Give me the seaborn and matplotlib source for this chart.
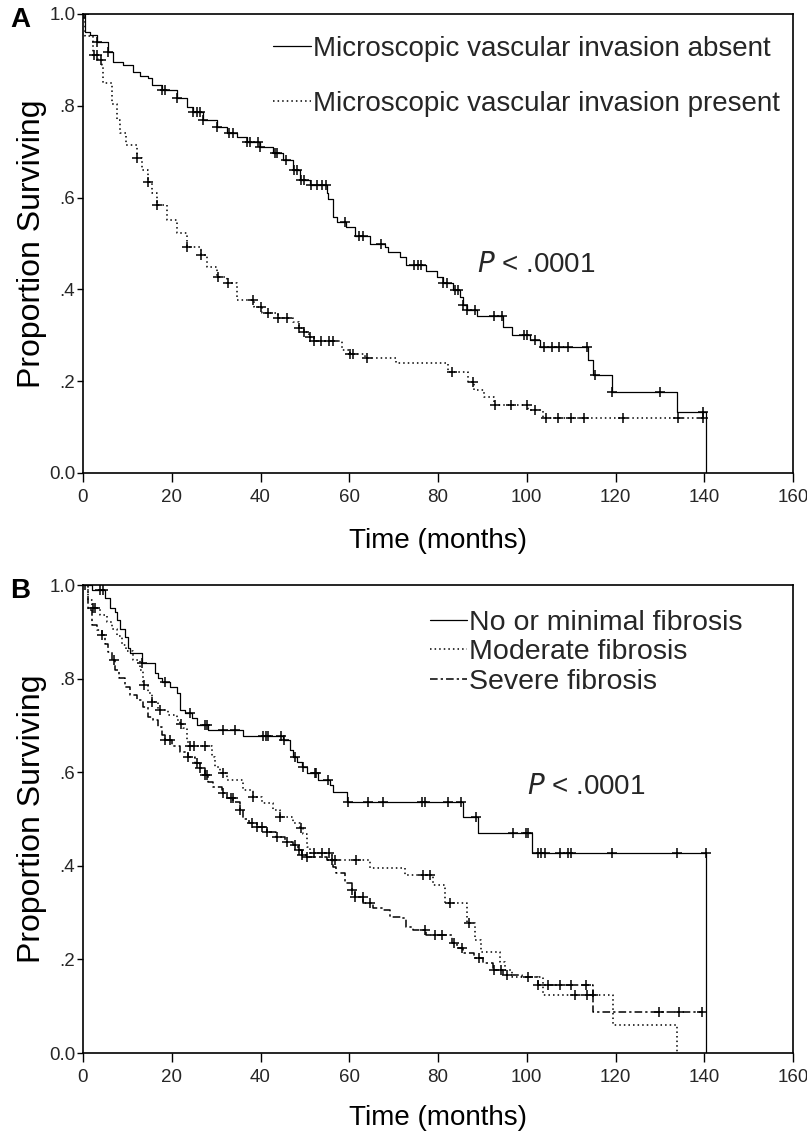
import numpy as np
import pandas as pd
import seaborn as sns
import matplotlib.pyplot as plt

# Panel A - microscopic vascular invasion (Kaplan-Meier knots)
a_absent_t = [0, 0.5, 1.6, 3.1, 5.7, 6.8, 9.1, 11.3, 12.8, 14.7, 15.5, 17.7, 21.1, 23.4, 24.9,
              27.1, 30.1, 32.4, 34.6, 36.9, 39.9, 42.9, 45.1, 47.4, 48.9, 51.2, 54.9, 55.3, 56.4,
              57.2, 59.2, 61.3, 64.7, 68.1, 68.8, 71.4, 72.9, 77.4, 79.7, 81.2, 83.4, 85.0, 85.7,
              86.5, 88.7, 94.7, 96.6, 100.7, 103.0, 113.9, 115.0, 119.1, 133.8, 140.4]
a_absent_s = [1.0, .961, .954, .940, .918, .896, .889, .874, .865, .860, .845, .834, .816, .798, .787,
              .769, .754, .740, .733, .722, .711, .697, .682, .660, .638, .627, .609, .598, .558,
              .547, .535, .517, .499, .493, .482, .471, .453, .439, .428, .413, .399, .384, .366,
              .355, .341, .319, .301, .290, .275, .246, .214, .177, .132, 0.0]
a_absent_cens = [0.3, 3.1, 5.7, 17.7, 18.5, 21.1, 24.9, 25.6, 26.4, 27.1, 30.1, 32.8, 33.9, 36.9,
                 37.6, 39.5, 39.9, 43.3, 43.7, 45.8, 47.6, 48.3, 49.1, 49.8, 51.3, 52.8, 53.9, 54.7,
                 59.0, 62.2, 63.0, 67.1, 74.6, 75.4, 76.1, 81.2, 82.0, 83.8, 84.5, 85.7, 86.5, 88.4,
                 92.6, 94.4, 99.3, 100.0, 101.9, 103.8, 105.7, 107.2, 109.4, 113.5, 115.3, 119.3,
                 130.0, 139.7]

a_present_t = [0, 0.5, 2.3, 3.4, 4.2, 4.6, 6.5, 7.6, 8.3, 9.8, 12.1, 13.2, 14.7, 15.5, 16.6, 18.9,
               21.1, 23.4, 26.7, 27.9, 30.1, 32.4, 34.6, 38.5, 40.4, 43.9, 47.4, 48.6, 49.7, 50.9,
               52.0, 58.4, 60.2, 63.6, 70.6, 82.2, 86.8, 88.0, 90.3, 92.6, 100.2, 103.7, 140.2]
a_present_s = [1.0, .951, .911, .900, .889, .849, .805, .769, .740, .715, .686, .660, .635, .609, .584,
               .551, .522, .493, .475, .449, .428, .413, .377, .362, .349, .338, .330, .316, .308,
               .297, .288, .268, .259, .250, .240, .221, .199, .181, .166, .148, .137, .119, .119]
a_present_cens = [2.5, 3.2, 4.0, 12.1, 14.7, 16.6, 23.4, 26.7, 30.5, 32.7, 38.4, 40.0, 41.6, 43.9,
                  46.0, 48.6, 49.9, 51.1, 52.0, 53.7, 55.4, 56.4, 60.2, 60.8, 63.9, 83.2, 87.8, 92.9,
                  96.4, 100.0, 101.9, 104.4, 107.0, 109.9, 112.8, 121.6, 134.1, 139.8]

# Panel B - fibrosis
b_none_t = [0, 2.0, 5.0, 6.1, 7.2, 7.6, 8.3, 9.5, 10.2, 10.6, 13.2, 16.2, 17.0, 17.7, 19.6, 21.1,
            21.9, 23.0, 24.5, 25.6, 28.2, 36.1, 45.1, 46.6, 47.4, 48.2, 49.3, 50.4, 53.0, 55.7,
            56.4, 59.4, 85.7, 89.1, 101.1, 140.5]
b_none_s = [1.0, .989, .972, .950, .943, .925, .907, .889, .865, .854, .833, .811, .801, .793, .783,
            .769, .733, .726, .715, .701, .690, .677, .669, .647, .633, .622, .612, .598, .583,
            .573, .558, .537, .505, .471, .427, 0.0]
b_none_cens = [0.5, 3.9, 4.6, 13.2, 18.5, 24.2, 27.5, 27.9, 31.6, 34.2, 40.6, 41.3, 41.7, 44.6,
               45.3, 47.8, 49.6, 52.3, 52.6, 55.3, 59.7, 64.2, 67.6, 76.3, 77.0, 82.2, 85.2, 88.5,
               96.8, 99.8, 100.2, 102.5, 103.3, 104.0, 107.4, 109.2, 110.0, 119.1, 133.8, 140.3]

b_mod_t = [0, 1.2, 2.0, 3.8, 5.3, 6.5, 7.6, 8.7, 9.8, 11.3, 12.8, 13.6, 14.7, 15.5, 17.0, 19.2,
           21.1, 21.9, 22.6, 23.4, 23.7, 29.0, 29.7, 30.9, 32.4, 36.1, 38.4, 40.3, 42.9, 44.4,
           47.4, 48.9, 49.6, 50.4, 51.2, 56.0, 64.7, 72.6, 78.9, 81.6, 86.5, 88.3, 89.8, 94.0,
           95.1, 96.6, 103.7, 119.5, 133.8]
b_mod_s = [1.0, .968, .950, .936, .922, .907, .890, .872, .858, .840, .818, .786, .769, .751, .733,
           .722, .712, .704, .694, .669, .655, .633, .612, .598, .583, .562, .548, .534, .519,
           .505, .491, .480, .469, .441, .427, .412, .395, .380, .359, .320, .277, .241, .216,
           .195, .177, .163, .124, .060, 0.0]
b_mod_cens = [2.3, 2.6, 13.8, 15.5, 17.4, 22.1, 24.0, 25.1, 27.4, 31.6, 38.4, 44.4, 49.2, 52.0,
              53.8, 55.5, 56.7, 61.5, 76.6, 78.1, 82.7, 87.0, 110.9, 113.5, 115.0]

b_sev_t = [0, 1.2, 2.0, 3.1, 4.2, 5.0, 5.7, 6.5, 7.2, 8.0, 9.5, 10.6, 12.1, 13.6, 14.7, 15.8, 17.0,
           17.7, 18.5, 20.0, 21.9, 23.7, 25.2, 26.4, 27.5, 28.2, 29.4, 31.3, 32.4, 33.9, 35.4,
           36.1, 37.3, 39.1, 41.4, 43.6, 45.5, 47.4, 48.5, 49.3, 50.4, 54.9, 56.4, 57.0, 59.0,
           60.6, 61.3, 63.2, 65.4, 67.7, 69.2, 71.8, 72.9, 74.4, 77.4, 83.1, 84.2, 85.7, 88.0,
           90.2, 92.5, 94.7, 98.9, 102.6, 115.0, 139.6]
b_sev_s = [1.0, .947, .915, .904, .893, .875, .857, .840, .818, .801, .783, .765, .754, .740, .719,
           .712, .697, .679, .669, .655, .644, .633, .619, .608, .594, .580, .569, .555, .544,
           .537, .519, .501, .491, .483, .473, .462, .451, .444, .434, .423, .419, .412, .398,
           .384, .363, .348, .334, .320, .309, .306, .291, .288, .270, .263, .252, .234, .224,
           .213, .202, .192, .177, .167, .163, .145, .088, .088]
b_sev_cens = [4.2, 7.0, 18.5, 19.6, 23.7, 25.6, 26.4, 27.5, 27.9, 31.6, 33.4, 33.8, 35.4, 38.0,
              39.3, 40.4, 41.4, 43.7, 46.0, 47.7, 48.7, 49.3, 50.4, 56.0, 60.7, 61.3, 63.0, 64.7,
              77.0, 79.3, 81.0, 83.6, 85.5, 89.2, 92.6, 94.3, 95.5, 100.2, 102.6, 104.8, 107.6,
              109.9, 113.4, 129.8, 134.4, 139.6]

x_ticks = [0, 20, 40, 60, 80, 100, 120, 140, 160]
y_ticks = [0.0, 0.2, 0.4, 0.6, 0.8, 1.0]
y_ticklabels = ['0.0', '.2', '.4', '.6', '.8', '1.0']

sns.set_theme(style="white")
plt.rcParams['font.family'] = ['Liberation Sans', 'DejaVu Sans']
tick_font = ['Liberation Sans Narrow', 'Liberation Sans', 'DejaVu Sans']


def km_curve(ax, t, s, cens, label, ls, lw):
    df = pd.DataFrame({'Time': t, 'Surv': s})
    sns.lineplot(data=df, x='Time', y='Surv', ax=ax, color='black', linewidth=lw,
                 linestyle=ls, drawstyle='steps-post', estimator=None, sort=False, label=label)
    # censored observations sit on the curve
    idx = np.searchsorted(np.array(t), np.array(cens), side='right') - 1
    cdf = pd.DataFrame({'Time': cens, 'Surv': np.array(s)[idx]})
    sns.scatterplot(data=cdf, x='Time', y='Surv', ax=ax, marker='+', color='black',
                    s=60, linewidth=1.1, legend=False, zorder=3)


def style_axes(ax, letter, xlab_y):
    ax.set_xlim(0, 160)
    ax.set_ylim(0, 1)
    ax.set_xticks(x_ticks)
    ax.set_xticklabels([str(v) for v in x_ticks], family=tick_font, fontsize=13.5)
    ax.set_yticks(y_ticks)
    ax.set_yticklabels(y_ticklabels, family=tick_font, fontsize=13.5)
    ax.tick_params(axis='x', direction='out', length=6.5, width=1, color='black', pad=5,
                   bottom=True)
    ax.tick_params(axis='y', direction='out', length=4.5, width=1, color='black', pad=1,
                   left=True)
    for sp in ax.spines.values():
        sp.set_color('black')
        sp.set_linewidth(1.2)
    ax.set_xlabel('Time (months)', fontsize=20, color='black')
    ax.set_ylabel('Proportion Surviving', fontsize=23, color='black')
    ax.xaxis.set_label_coords(0.5, xlab_y)
    ax.yaxis.set_label_coords(-0.05, 0.5)
    ax.text(-0.103, 0.988, letter, transform=ax.transAxes, fontsize=20, fontweight='bold',
            ha='left', va='center', color='black')


fig = plt.figure(figsize=(8.07, 11.34), dpi=100)
axA = fig.add_axes([83 / 807, 1 - 473 / 1134, 710 / 807, 459 / 1134])
axB = fig.add_axes([83 / 807, 1 - 1053 / 1134, 710 / 807, 468 / 1134])

km_curve(axA, a_absent_t, a_absent_s, a_absent_cens,
         'Microscopic vascular invasion absent', '-', 0.9)
km_curve(axA, a_present_t, a_present_s, a_present_cens,
         'Microscopic vascular invasion present', (0, (1, 2)), 1.1)
style_axes(axA, 'A', -0.12)
axA.text(88.8, 0.453, r'$\it{P}$' + ' < .0001', fontsize=20, ha='left', va='center')
axA.legend(loc='upper left', bbox_to_anchor=(0.268, 0.953), frameon=False, fontsize=20,
           handlelength=1.35, handletextpad=0.08, labelspacing=1.05, borderpad=0,
           borderaxespad=0)

km_curve(axB, b_none_t, b_none_s, b_none_cens, 'No or minimal fibrosis', '-', 0.9)
km_curve(axB, b_mod_t, b_mod_s, b_mod_cens, 'Moderate fibrosis', (0, (1, 2)), 1.1)
km_curve(axB, b_sev_t, b_sev_s, b_sev_cens, 'Severe fibrosis', (0, (5, 2, 1.5, 2)), 1.1)
style_axes(axB, 'B', -0.112)
axB.text(100, 0.568, r'$\it{P}$' + ' < .0001', fontsize=20, ha='left', va='center')
axB.legend(loc='upper left', bbox_to_anchor=(0.489, 0.947), frameon=False, fontsize=20.5,
           handlelength=1.3, handletextpad=0.08, labelspacing=0.12, borderpad=0,
           borderaxespad=0)

fig.savefig('out.png', dpi=100, facecolor='white')
